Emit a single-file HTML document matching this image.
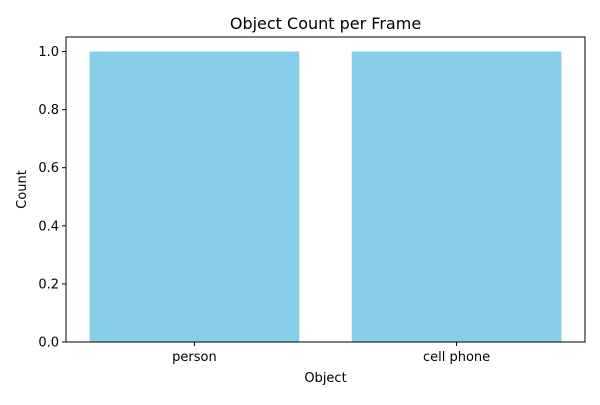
<!DOCTYPE html>
<html><head><meta charset="utf-8"><style>
body{margin:0;background:#fff;}
svg text{font-family:"DejaVu Sans","Liberation Sans",sans-serif;fill:#000;}
</style></head><body>
<svg id="chart" width="600" height="400">
<rect width="600" height="400" fill="#fff"/>
<text x="325.5" y="29" font-size="16" text-anchor="middle">Object Count per Frame</text>
<g id="bars"></g>
<g id="yticks"></g>
<g id="xticks"></g>
<rect x="66" y="37" width="519" height="305" fill="none" stroke="#000" stroke-width="1"/>
<text x="325.5" y="382" font-size="13" text-anchor="middle">Object</text>
<text x="26" y="189.5" font-size="13" text-anchor="middle" transform="rotate(-90 26 189.5)">Count</text>
</svg>
<script>
const categories=["person","cell phone"];
const counts=[1,1];
const yTicks=[0,0.2,0.4,0.6,0.8,1.0];
const L=66,R=585,T=37,B=342,ymax=1.05;
const ns="http://www.w3.org/2000/svg";
const xmin=-0.4-0.05*(categories.length-1+0.8), xmax=categories.length-1+0.4+0.05*(categories.length-1+0.8);
const xs=v=>L+(v-xmin)/(xmax-xmin)*(R-L);
const unit=(R-L)/(xmax-xmin);
const ys=v=>B-v/ymax*(B-T);
const bars=document.getElementById('bars'),yt=document.getElementById('yticks'),xt=document.getElementById('xticks');
categories.forEach((c,i)=>{
 const r=document.createElementNS(ns,'rect');
 r.setAttribute('x',xs(i)-0.4*unit);r.setAttribute('width',0.8*unit);
 r.setAttribute('y',ys(counts[i]));r.setAttribute('height',B-ys(counts[i]));
 r.setAttribute('fill','#87ceeb');
 
 
 bars.appendChild(r);
 const l=document.createElementNS(ns,'line');
 l.setAttribute('x1',xs(i));l.setAttribute('x2',xs(i));l.setAttribute('y1',B);l.setAttribute('y2',B+4);l.setAttribute('stroke','#000');
 
 
 xt.appendChild(l);
 const t=document.createElementNS(ns,'text');
 t.setAttribute('x',xs(i));t.setAttribute('y',B+19);t.setAttribute('font-size','13');t.setAttribute('text-anchor','middle');
 t.textContent=c;
 
 
 xt.appendChild(t);
});
yTicks.forEach(v=>{
 const l=document.createElementNS(ns,'line');
 l.setAttribute('x1',L-4);l.setAttribute('x2',L);l.setAttribute('y1',ys(v));l.setAttribute('y2',ys(v));l.setAttribute('stroke','#000');
 
 
 yt.appendChild(l);
 const t=document.createElementNS(ns,'text');
 t.setAttribute('x',L-7);t.setAttribute('y',ys(v)+4.5);t.setAttribute('font-size','13');t.setAttribute('text-anchor','end');
 t.textContent=v.toFixed(1);
 
 
 yt.appendChild(t);
});
</script>
</body></html>
